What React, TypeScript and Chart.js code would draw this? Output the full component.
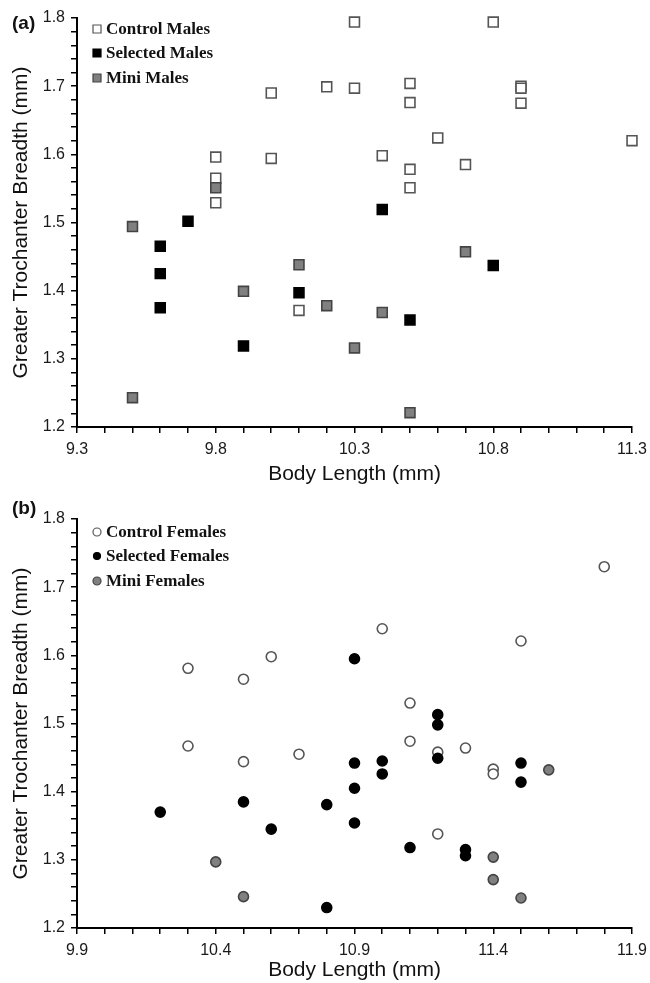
import React, { useEffect, useRef } from 'react';
import { Chart, registerables } from 'chart.js';

Chart.register(...registerables);

// ---------- Data (body length mm, greater trochanter breadth mm) ----------
const controlMales: [number, number][] = [
  [10.3, 1.794], [10.8, 1.794], [10.0, 1.69], [10.2, 1.699], [10.3, 1.697],
  [10.5, 1.704], [10.5, 1.676], [10.9, 1.70], [10.9, 1.697], [10.9, 1.675],
  [9.8, 1.596], [9.8, 1.565], [9.8, 1.529], [10.0, 1.594], [10.6, 1.624],
  [11.3, 1.62], [10.4, 1.598], [10.5, 1.578], [10.7, 1.585], [10.5, 1.551],
  [10.1, 1.371],
];
const selectedMales: [number, number][] = [
  [9.6, 1.465], [9.6, 1.425], [9.6, 1.375], [9.7, 1.502], [9.9, 1.319],
  [10.1, 1.397], [10.4, 1.519], [10.5, 1.357], [10.8, 1.437],
];
const miniMales: [number, number][] = [
  [9.5, 1.494], [9.5, 1.243], [9.8, 1.551], [9.9, 1.399], [10.1, 1.438],
  [10.2, 1.378], [10.3, 1.316], [10.4, 1.368], [10.5, 1.221], [10.7, 1.457],
];

const controlFemales: [number, number][] = [
  [10.3, 1.581], [10.5, 1.565], [10.6, 1.598], [11.8, 1.73], [11.0, 1.639],
  [11.5, 1.621], [11.1, 1.53], [10.3, 1.467], [10.5, 1.444], [10.7, 1.455],
  [11.1, 1.474], [11.2, 1.458], [11.3, 1.464], [11.4, 1.433], [11.4, 1.426],
  [11.2, 1.338],
];
const selectedFemales: [number, number][] = [
  [10.9, 1.595], [11.2, 1.513], [11.2, 1.498], [10.2, 1.37], [10.5, 1.385],
  [10.6, 1.345], [10.8, 1.381], [10.8, 1.23], [11.2, 1.449], [10.9, 1.442],
  [11.0, 1.445], [11.0, 1.426], [10.9, 1.405], [10.9, 1.354], [11.5, 1.442],
  [11.5, 1.414], [11.1, 1.318], [11.3, 1.315], [11.3, 1.306],
];
const miniFemales: [number, number][] = [
  [10.4, 1.297], [10.5, 1.246], [11.6, 1.432], [11.4, 1.304], [11.4, 1.271],
  [11.5, 1.244],
];

const maleLabels = ['Control Males', 'Selected Males', 'Mini Males'];
const femaleLabels = ['Control Females', 'Selected Females', 'Mini Females'];

const xRangeA = [9.3, 11.3];
const xRangeB = [9.9, 11.9];
const yRange = [1.2, 1.8];

const xTitle = 'Body Length (mm)';
const yTitle = 'Greater Trochanter Breadth (mm)';

// ---------- Styles ----------
const SANS = "'Liberation Sans', Arial, Helvetica, sans-serif";
const SERIF = "'Liberation Serif', 'Times New Roman', serif";
const seriesFill = ['#ffffff', '#000000', '#808080'];
const seriesBorder = ['#555555', '#000000', '#444444'];

type Pt = { x: number; y: number };
const toPts = (arr: [number, number][]): Pt[] => arr.map(([x, y]) => ({ x, y }));

const panelPlugin = {
  id: 'panelDecor',
  afterDraw(chart: any, _args: any, opts: any) {
    const ctx: CanvasRenderingContext2D = chart.ctx;
    ctx.save();
    // panel letter
    ctx.fillStyle = '#111';
    ctx.font = `bold 19px ${SANS}`;
    ctx.textBaseline = 'alphabetic';
    ctx.textAlign = 'left';
    ctx.fillText(opts.letter, 12, opts.letterY);
    // legend
    chart.data.datasets.forEach((ds: any, i: number) => {
      const y = opts.rows[i];
      const x = 97;
      ctx.beginPath();
      if (opts.shape === 'rect') {
        const s = 4;
        ctx.rect(x - s, y - s, 2 * s, 2 * s);
      } else {
        const r = i === 1 ? 3.5 : 4;
        ctx.arc(x, y, r, 0, Math.PI * 2);
      }
      ctx.fillStyle = ds.backgroundColor;
      ctx.fill();
      ctx.lineWidth = 1.2;
      ctx.strokeStyle = ds.borderColor;
      ctx.stroke();
      ctx.fillStyle = '#111';
      ctx.font = `bold 17px ${SERIF}`;
      ctx.textBaseline = 'middle';
      ctx.fillText(ds.label, 106, y + 1);
    });
    ctx.restore();
  },
};

type PanelProps = {
  height: number;
  top: number;
  series: [number, number][][];
  labels: string[];
  xRange: number[];
  shape: 'rect' | 'circle';
  letter: string;
  letterY: number;
  rows: number[];
  padTop: number;
  xAxisHeight: number;
  xTitlePad: number;
};

function Panel(p: PanelProps) {
  const ref = useRef<HTMLCanvasElement | null>(null);
  useEffect(() => {
    if (!ref.current) return;
    const [xmin, xmax] = p.xRange;
    const [ymin, ymax] = yRange;
    const chart = new Chart(ref.current, {
      type: 'scatter',
      data: {
        datasets: p.series.map((s, i) => ({
          label: p.labels[i],
          data: toPts(s),
          pointStyle: p.shape === 'rect' ? 'rect' : 'circle',
          pointRadius: p.shape === 'rect' ? 7 : 5,
          backgroundColor: seriesFill[i],
          borderColor: seriesBorder[i],
          borderWidth: 1.6,
          clip: false,
          order: 3 - i,
        })),
      },
      options: {
        animation: false,
        responsive: false,
        devicePixelRatio: 1,
        events: [],
        layout: { autoPadding: false, padding: { left: 0, right: 0, top: p.padTop, bottom: 0 } },
        plugins: {
          legend: { display: false },
          tooltip: { enabled: false },
          panelDecor: { letter: p.letter, letterY: p.letterY, rows: p.rows, shape: p.shape },
        } as any,
        scales: {
          x: {
            type: 'linear',
            min: xmin,
            max: xmax,
            afterFit: (scale: any) => {
              scale.height = p.xAxisHeight;
              scale.paddingLeft = 0;
              scale.paddingRight = 18;
            },
            border: { display: true, color: '#000', width: 2 },
            grid: { drawOnChartArea: false, drawTicks: true, tickLength: 6, color: '#000', lineWidth: 1.5 },
            ticks: {
              stepSize: 0.1,
              autoSkip: false,
              maxRotation: 0,
              padding: 7,
              color: '#1a1a1a',
              font: { family: SANS, size: 16 },
              callback: (v: any) => {
                const k = Math.round((Number(v) - xmin) * 10);
                return k % 5 === 0 ? Number(v).toFixed(1) : '';
              },
            },
            title: {
              display: true,
              text: xTitle,
              color: '#111',
              font: { family: SANS, size: 21 },
              padding: { top: 0, bottom: p.xTitlePad },
            },
          },
          y: {
            type: 'linear',
            min: ymin,
            max: ymax,
            afterFit: (scale: any) => { scale.width = 77; },
            border: { display: true, color: '#000', width: 2 },
            grid: { drawOnChartArea: false, drawTicks: true, tickLength: 6, color: '#000', lineWidth: 1.5 },
            ticks: {
              stepSize: 0.02,
              autoSkip: false,
              padding: 6,
              color: '#1a1a1a',
              font: { family: SANS, size: 16 },
              callback: (v: any) => {
                const k = Math.round((Number(v) - ymin) / 0.02);
                return k % 5 === 0 ? Number(v).toFixed(1) : '';
              },
            },
            title: {
              display: true,
              text: yTitle,
              color: '#111',
              font: { family: SANS, size: 21 },
              padding: { top: 9, bottom: 0 },
            },
          },
        },
      },
      plugins: [panelPlugin as any],
    } as any);
    return () => chart.destroy();
  }, []);
  return (
    <canvas
      ref={ref}
      width={650}
      height={p.height}
      style={{ position: 'absolute', left: 0, top: p.top, width: 650, height: p.height, display: 'block' }}
    />
  );
}

export default function App() {
  return (
    <div style={{ position: 'absolute', left: 0, top: 0, width: 650, height: 983, background: '#fff', overflow: 'hidden' }}>
      <Panel
        height={490}
        top={0}
        series={[controlMales, selectedMales, miniMales]}
        labels={maleLabels}
        xRange={xRangeA}
        shape="rect"
        letter="(a)"
        letterY={29}
        rows={[29, 53, 78]}
        padTop={18}
        xAxisHeight={63}
        xTitlePad={3}
      />
      <Panel
        height={493}
        top={490}
        series={[controlFemales, selectedFemales, miniFemales]}
        labels={femaleLabels}
        xRange={xRangeB}
        shape="circle"
        letter="(b)"
        letterY={24}
        rows={[42, 66, 91]}
        padTop={29}
        xAxisHeight={55}
        xTitlePad={0}
      />
    </div>
  );
}
